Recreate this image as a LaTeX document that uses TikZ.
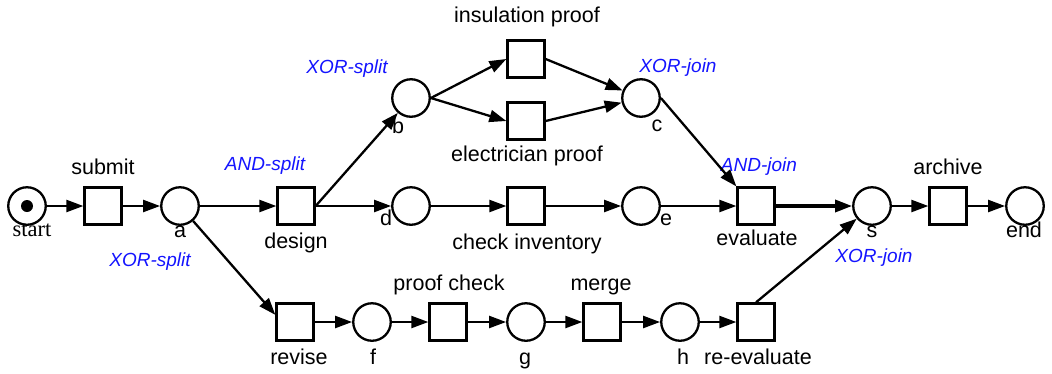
\documentclass[tikz,border=0pt]{standalone}
\usepackage{fontspec}
\setmainfont{Liberation Sans}
\newfontfamily\srf{Liberation Serif}
\usetikzlibrary{arrows.meta}
\definecolor{lblblue}{RGB}{20,20,255}
\begin{document}
\begin{tikzpicture}[x=1pt,y=-1pt,
  place/.style={circle,draw,line width=2.3pt,minimum size=37.5pt,inner sep=0pt},
  trans/.style={rectangle,draw,line width=2.3pt,minimum size=37pt,inner sep=0pt},
  token/.style={circle,fill,minimum size=12pt,inner sep=0pt},
  lbl/.style={font=\fontsize{21.5}{21.5}\selectfont,anchor=base,inner sep=0pt},
  ann/.style={font=\fontsize{19}{19}\selectfont\itshape,text=lblblue,anchor=base,inner sep=0pt},
  arc/.style={line width=2.3pt,-{Triangle[length=17pt,width=12pt]}},
  ]
\useasboundingbox (0,0) rectangle (1052,373);
% places and transitions
\node[place] (start) at (27,206) {};
\node[token] (tok) at (27,206) {};
\node[trans] (submit) at (103,206) {};
\node[place] (a) at (180,206) {};
\node[trans] (design) at (296,206) {};
\node[place] (b) at (411,98) {};
\node[place] (d) at (411,206) {};
\node[trans] (ins) at (526,59) {};
\node[trans] (ele) at (526,121) {};
\node[trans] (chk) at (526,206) {};
\node[place] (c) at (641,98) {};
\node[place] (e) at (641,206) {};
\node[trans] (eval) at (756,206) {};
\node[place] (s) at (872,206) {};
\node[trans] (arch) at (948,206) {};
\node[place] (end) at (1025,206) {};
\node[trans] (revise) at (295,322) {};
\node[place] (f) at (372,322) {};
\node[trans] (pc) at (448,322) {};
\node[place] (g) at (526,322) {};
\node[trans] (merge) at (602,322) {};
\node[place] (h) at (680,322) {};
\node[trans] (reev) at (756,322) {};
% labels
\node[font=\srf\fontsize{22.5}{22.5}\selectfont,anchor=base,inner sep=0pt] (lstart) at (32,236) {start};
\node[lbl] (lsubmit) at (103,174) {submit};
\node[lbl] (la) at (180,237) {a};
\node[lbl] (ldesign) at (296,248) {design};
\node[lbl] (lb) at (398,133) {b};
\node[lbl] (ld) at (386,225) {d};
\node[lbl] (lins) at (527,22) {insulation proof};
\node[lbl] (lele) at (527,161) {electrician proof};
\node[lbl] (lchk) at (527,249) {check inventory};
\node[lbl] (lc) at (657,131) {c};
\node[lbl] (le) at (666,225) {e};
\node[lbl] (leval) at (757,245) {evaluate};
\node[lbl] (ls) at (872,237) {s};
\node[lbl] (larch) at (948,174) {archive};
\node[lbl] (lend) at (1024,237) {end};
\node[lbl] (lrevise) at (299,364) {revise};
\node[lbl] (lf) at (373,364) {f};
\node[lbl] (lpc) at (449,290) {proof check};
\node[lbl] (lg) at (525,364) {g};
\node[lbl] (lmerge) at (601,290) {merge};
\node[lbl] (lh) at (683,364) {h};
\node[lbl] (lreev) at (758,364) {re-evaluate};
% annotations
\node[ann] (x1) at (347,73) {XOR-split};
\node[ann] (x2) at (265,170) {AND-split};
\node[ann] (x3) at (150,266) {XOR-split};
\node[ann] (x4) at (678,72) {XOR-join};
\node[ann] (x5) at (759,171) {AND-join};
\node[ann] (x6) at (874,262) {XOR-join};
% arcs
\draw[arc] (start) -- (submit);
\draw[arc] (submit) -- (a);
\draw[arc] (a) -- (design);
\draw[arc] (a) -- (revise.160);
\draw[arc] (design.east) -- (b);
\draw[arc] (design.east) -- (d);
\draw[arc] (b.east) -- (ins.west);
\draw[arc] (b.east) -- (ele.west);
\draw[arc] (ins.east) -- (c);
\draw[arc] (ele.east) -- (c);
\draw[arc] (d) -- (chk);
\draw[arc] (chk) -- (e);
\draw[arc] (e) -- (eval);
\draw[arc] (c.east) -- (eval.north west);
\draw[arc,line width=3.3pt] (eval) -- (s);
\draw[arc] (reev.north) -- (s);
\draw[arc] (s) -- (arch);
\draw[arc] (arch) -- (end);
\draw[arc] (revise) -- (f);
\draw[arc] (f) -- (pc);
\draw[arc] (pc) -- (g);
\draw[arc] (g) -- (merge);
\draw[arc] (merge) -- (h);
\draw[arc] (h) -- (reev);
\end{tikzpicture}
\end{document}
